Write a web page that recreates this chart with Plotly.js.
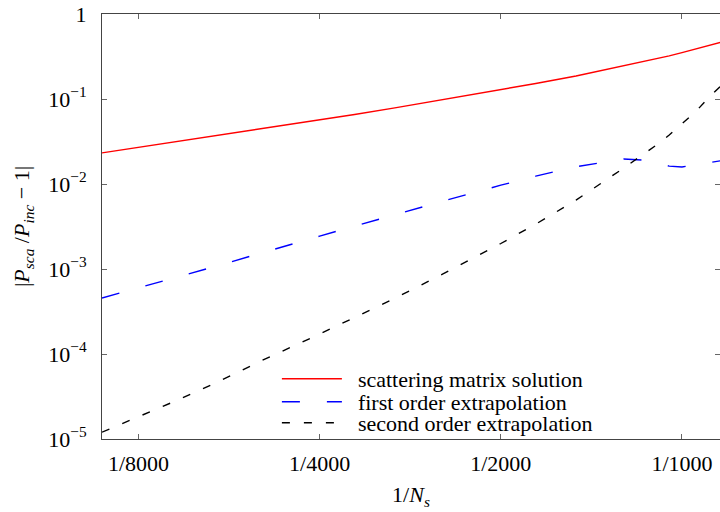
<!DOCTYPE html>
<html><head><meta charset="utf-8">
<script src="https://cdn.plot.ly/plotly-3.0.1.min.js"></script>
<style>html,body{margin:0;padding:0;background:#fff}</style>
</head><body><div id="chart" style="width:720px;height:512px"></div>
<script>
// Number of segments N_s (x = 1/N_s)
const Ns = [9200, 8000, 7000, 6000, 5000, 4000, 3500, 3000, 2500, 2000, 1750, 1500, 1250, 1150, 1100, 1050, 1000, 950, 900, 860];
// |P_sca/P_inc - 1| for each method
const scatteringMatrix = [0.02323, 0.02692, 0.03105, 0.03664, 0.04446, 0.05623, 0.06561, 0.07852, 0.09772, 0.1282, 0.1524, 0.1862, 0.2443, 0.2773, 0.2965, 0.3214, 0.3508, 0.386, 0.4315, 0.4677];
const firstOrder = [4.56e-4, 5.96e-4, 7.82e-4, 1.059e-3, 1.552e-3, 2.438e-3, 3.19e-3, 4.365e-3, 6.266e-3, 9.68e-3, 1.236e-2, 1.596e-2, 1.972e-2, 1.905e-2, 1.758e-2, 1.622e-2, 1.585e-2, 1.679e-2, 1.778e-2, 1.884e-2];
const secondOrder = [1.202e-5, 1.820e-5, 2.735e-5, 4.467e-5, 8.318e-5, 1.718e-4, 2.692e-4, 4.519e-4, 8.71e-4, 1.995e-3, 3.373e-3, 6.457e-3, 1.538e-2, 2.317e-2, 2.911e-2, 3.767e-2, 5.07e-2, 7.047e-2, 0.1059, 0.1445];
const seriesNames = ['scattering matrix solution', 'first order extrapolation', 'second order extrapolation'];
const xTickNs = [8000, 4000, 2000, 1000];
const xTickText = ['1/8000', '1/4000', '1/2000', '1/1000'];
const yTickVals = [1e-5, 1e-4, 1e-3, 1e-2, 1e-1, 1];
const yTickText = ['10<sup>\u22125</sup>', '10<sup>\u22124</sup>', '10<sup>\u22123</sup>', '10<sup>\u22122</sup>', '10<sup>\u22121</sup>', '1'];

const FONT = 'Liberation Serif';
const FS = 22;
const xs = Ns.map(n => 1 / n);
const pad = '\u00a0\u00a0';

const traces = [
  {x: xs, y: scatteringMatrix, name: pad + seriesNames[0], mode: 'lines', line: {color: '#ff0000', width: 1.4}, legend: 'legend'},
  {x: xs, y: firstOrder, name: pad + seriesNames[1], mode: 'lines', line: {color: '#0000ff', width: 1.4, dash: '18px,27px'}, legend: 'legend2'},
  {x: xs, y: secondOrder, name: pad + seriesNames[2], mode: 'lines', line: {color: '#000000', width: 1.4, dash: '8px,14px'}, legend: 'legend3'}
];

const axisCommon = {
  showline: true, linecolor: '#444', linewidth: 1, mirror: 'ticks',
  ticks: 'inside', ticklen: 5, tickcolor: '#666', tickwidth: 1,
  showgrid: false, zeroline: false,
  tickfont: {family: FONT, size: FS, color: '#000'}
};

const legendCommon = {
  x: 0.283, xanchor: 'left', yanchor: 'middle',
  bgcolor: 'rgba(0,0,0,0)', borderwidth: 0, itemwidth: 60,
  font: {family: FONT, size: FS, color: '#000'}
};

const layout = {
  width: 720, height: 512,
  font: {family: FONT, size: FS, color: '#000'},
  margin: {l: 102, r: 0, t: 14, b: 73},
  paper_bgcolor: '#fff', plot_bgcolor: '#fff',
  showlegend: true,
  xaxis: Object.assign({}, axisCommon, {
    type: 'log', range: [-3.9638, -2.9368],
    tickvals: xTickNs.map(n => 1 / n), ticktext: xTickText,
    ticklabelstandoff: 5,
    title: {text: '1/<i>N</i><sub><i>s</i></sub>', font: {family: FONT, size: FS, color: '#000'}, standoff: 11}
  }),
  yaxis: Object.assign({}, axisCommon, {
    type: 'log', range: [-5, 0],
    tickvals: yTickVals, ticktext: yTickText,
    ticklabelstandoff: 10,
    title: {text: '|<i>P</i><sub><i>sca</i></sub> /<i>P</i><sub><i>inc</i></sub> \u2212 1|', font: {family: FONT, size: FS, color: '#000'}, standoff: 12}
  }),
  legend: Object.assign({}, legendCommon, {y: 0.1412}),
  legend2: Object.assign({}, legendCommon, {y: 0.0871}),
  legend3: Object.assign({}, legendCommon, {y: 0.0376})
};

Plotly.newPlot('chart', traces, layout, {displayModeBar: false, staticPlot: true});
</script>
</body></html>
